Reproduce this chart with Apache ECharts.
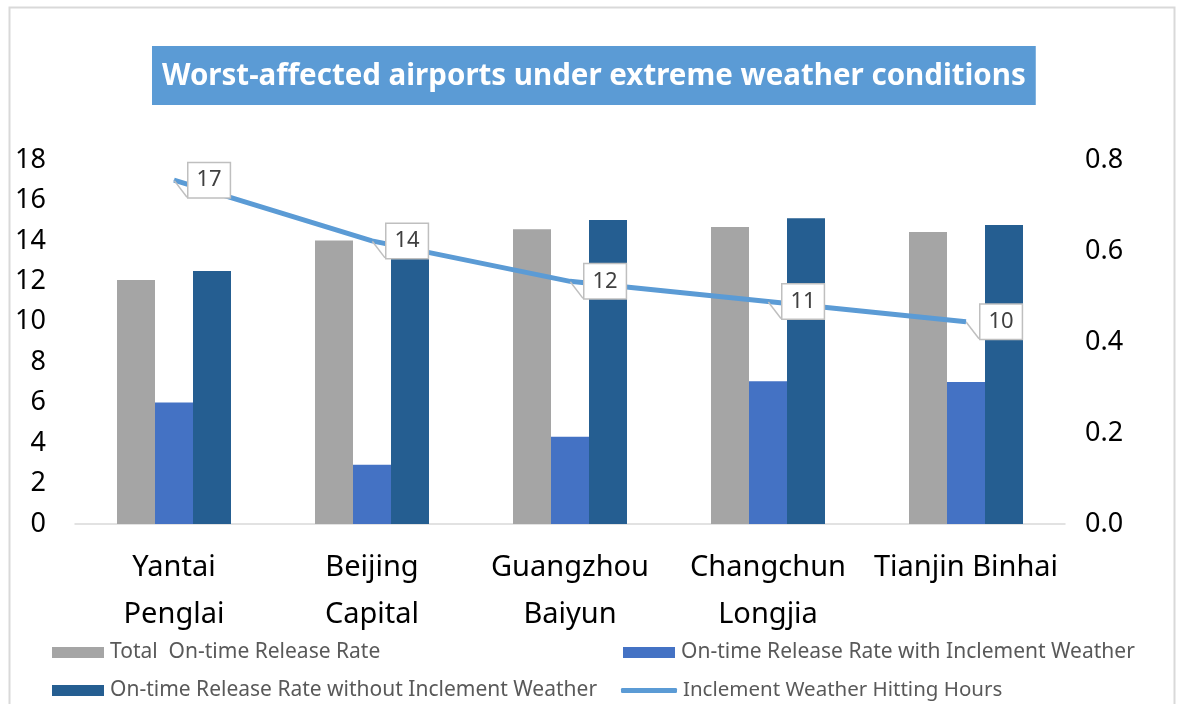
<!DOCTYPE html>
<html>
<head>
<meta charset="utf-8">
<script src="https://cdn.jsdelivr.net/npm/echarts@6/dist/echarts.min.js"></script>
<style>
html,body{margin:0;padding:0;background:#fff;}
#chart{width:1181px;height:704px;}
</style>
</head>
<body>
<div id="chart"></div>
<script>
// ---- data ----
const categories = ['Yantai\nPenglai', 'Beijing\nCapital', 'Guangzhou\nBaiyun', 'Changchun\nLongjia', 'Tianjin Binhai'];
const totalRate = [0.536, 0.623, 0.648, 0.653, 0.642];
const inclementRate = [0.267, 0.130, 0.192, 0.314, 0.312];
const clearRate = [0.556, 0.646, 0.668, 0.672, 0.657];
const hittingHours = [17, 14, 12, 11, 10];
const seriesNames = ['Total  On-time Release Rate', 'On-time Release Rate with Inclement Weather',
  'On-time Release Rate without Inclement Weather', 'Inclement Weather Hitting Hours'];
const titleText = 'Worst-affected airports under extreme weather conditions';

const FONT = 'Noto Sans';
const chart = echarts.init(document.getElementById('chart'), null, {renderer: 'canvas'});

function legendAt(name, left, top, extra) {
  return Object.assign({
    data: [name], left: left, top: top, padding: 0,
    itemWidth: 52, itemHeight: 11, icon: 'rect',
    selectedMode: false,
    textStyle: {fontFamily: FONT, fontSize: 21, color: '#595959', padding: [0, 0, 0, 1]}
  }, extra || {});
}

const option = {
  backgroundColor: '#fff',
  animation: false,
  title: {
    text: titleText, left: 152, top: 46,
    padding: [16, 10, 13, 10],
    backgroundColor: '#5B9BD5',
    textStyle: {fontFamily: FONT, fontSize: 29.5, fontWeight: 'bold', color: '#fff'}
  },
  graphic: [{
    type: 'rect', left: 7, top: 5, silent: true, z: -10,
    shape: {width: 1165, height: 720},
    style: {fill: 'none', stroke: '#D9D9D9', lineWidth: 2}
  }],
  legend: [
    legendAt(seriesNames[0], 52, 642),
    legendAt(seriesNames[1], 623, 642),
    legendAt(seriesNames[2], 52, 680),
    legendAt(seriesNames[3], 621, 680, {icon: 'roundRect', itemWidth: 56, itemHeight: 5,
      textStyle: {fontFamily: FONT, fontSize: 20.5, color: '#595959', padding: [0, 0, 0, 1]}})
  ],
  grid: {left: 75, right: 116, top: 160, bottom: 180},
  xAxis: {
    type: 'category', data: categories,
    axisLine: {lineStyle: {color: '#D9D9D9', width: 1.5}},
    axisTick: {show: false},
    axisLabel: {fontFamily: FONT, fontSize: 29, color: '#000', lineHeight: 47, margin: 20, interval: 0}
  },
  yAxis: [{
    type: 'value', min: 0, max: 18, interval: 2, position: 'left',
    axisLine: {show: false}, axisTick: {show: false}, splitLine: {show: false},
    axisLabel: {fontFamily: FONT, fontSize: 27, color: '#000', margin: 29}
  }, {
    type: 'value', min: 0, max: 0.8, interval: 0.2, position: 'right',
    axisLine: {show: false}, axisTick: {show: false}, splitLine: {show: false},
    axisLabel: {fontFamily: FONT, fontSize: 27, color: '#000', margin: 20,
      formatter: v => v.toFixed(1)}
  }],
  series: [{
    name: seriesNames[0], type: 'bar', yAxisIndex: 1, data: totalRate,
    barWidth: 38, barGap: '0%',
    itemStyle: {color: '#A5A5A5'}
  }, {
    name: seriesNames[1], type: 'bar', yAxisIndex: 1, data: inclementRate,
    barWidth: 38, barGap: '0%',
    itemStyle: {color: '#4472C4'}
  }, {
    name: seriesNames[2], type: 'bar', yAxisIndex: 1, data: clearRate,
    barWidth: 38, barGap: '0%',
    itemStyle: {color: '#255E91'}
  }, {
    name: seriesNames[3], type: 'line', yAxisIndex: 0, data: hittingHours,
    symbol: 'circle', symbolSize: 1, showSymbol: true,
    lineStyle: {color: '#5B9BD5', width: 5},
    itemStyle: {color: '#5B9BD5'},
    z: 5,
    label: {
      show: true, position: 'right', distance: 14,
      fontFamily: FONT, fontSize: 22, color: '#404040',
      backgroundColor: '#fff', borderColor: '#BFBFBF', borderWidth: 1.5,
      padding: [6, 8, 6, 8]
    },
    labelLine: {show: true, lineStyle: {color: '#BFBFBF', width: 1.5}}
  }]
};
chart.setOption(option);
</script>
</body>
</html>
